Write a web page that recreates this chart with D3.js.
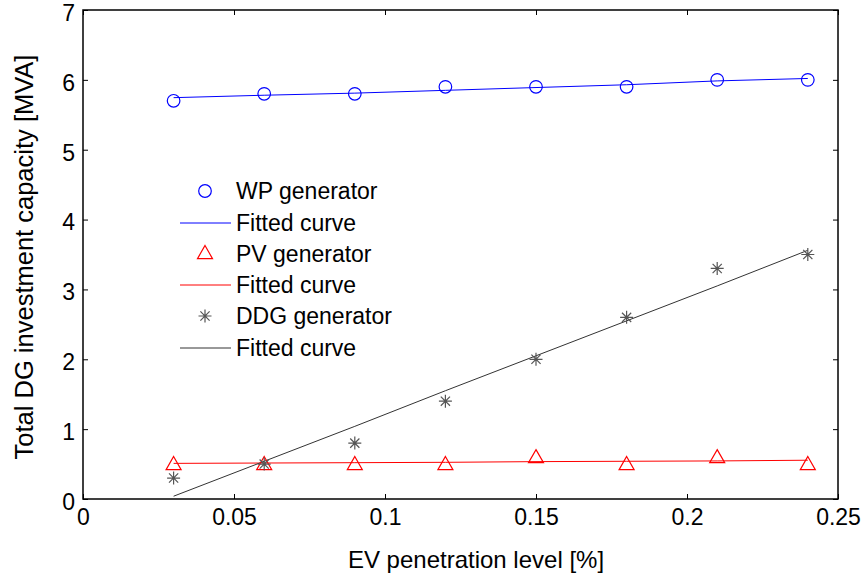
<!DOCTYPE html>
<html><head><meta charset="utf-8">
<script src="https://cdn.jsdelivr.net/npm/d3@7"></script>
<style>body{margin:0;background:#fff}svg{display:block}text{font-family:"Liberation Sans",Arial,sans-serif}</style>
</head><body><svg id="c" width="864" height="586"></svg>
<script>
const xs = [0.03,0.06,0.09,0.12,0.15,0.18,0.21,0.24];
const wp = [5.7,5.8,5.8,5.9,5.9,5.9,6.0,6.0];
const wpFit = [5.745,5.78,5.81,5.85,5.89,5.93,5.985,6.02];
const pv = [0.5,0.5,0.5,0.5,0.6,0.5,0.6,0.5];
const pvFit = [0.51,0.515,0.52,0.525,0.535,0.54,0.545,0.555];
const ddg = [0.3,0.5,0.8,1.4,2.0,2.6,3.3,3.5];
const ddgFit = [0.04,0.54,1.04,1.55,2.05,2.55,3.05,3.56];
const xTicks = [0,0.05,0.1,0.15,0.2,0.25];
const yTicks = [0,1,2,3,4,5,6,7];
const legendLabels = ["WP generator","Fitted curve","PV generator","Fitted curve","DDG generator","Fitted curve"];

const svg = d3.select("#c");
const L=83,R=838,T=10,B=499;
const x = d3.scaleLinear().domain([0,0.25]).range([L,R]);
const y = d3.scaleLinear().domain([0,7]).range([B,T]);

svg.append("rect").attr("x",L).attr("y",T).attr("width",R-L).attr("height",B-T)
  .attr("fill","none").attr("stroke","#000").attr("stroke-width",1.5);

const fmt = d => d===0?"0":String(d);
const gx = svg.append("g").attr("transform",`translate(0,${B})`)
  .call(d3.axisBottom(x).tickValues(xTicks).tickFormat(fmt).tickSize(-5));
const gxt = svg.append("g").attr("transform",`translate(0,${T})`)
  .call(d3.axisTop(x).tickValues(xTicks).tickFormat("").tickSize(-5));
const gy = svg.append("g").attr("transform",`translate(${L},0)`)
  .call(d3.axisLeft(y).tickValues(yTicks).tickFormat(fmt).tickSize(-5));
const gyr = svg.append("g").attr("transform",`translate(${R},0)`)
  .call(d3.axisRight(y).tickValues(yTicks).tickFormat("").tickSize(-5));
[gx,gxt,gy,gyr].forEach(g=>{g.select(".domain").remove();g.selectAll("line").attr("stroke","#000");});
[gx,gy].forEach(g=>g.selectAll("text").attr("font-size",23).attr("fill","#000"));
gx.selectAll("text").attr("y",26).attr("dy",0);
gy.selectAll("text").attr("x",-8).attr("dy","0.45em");

svg.append("text").attr("x",476).attr("y",568).attr("text-anchor","middle").attr("font-size",24).text("EV penetration level [%]");
svg.append("text").attr("transform",`translate(33,257) rotate(-90)`).attr("text-anchor","middle").attr("font-size",25.5).text("Total DG investment capacity [MVA]");

const line = d3.line().x((d,i)=>x(xs[i])).y(d=>y(d));
svg.append("path").datum(wpFit).attr("d",line).attr("fill","none").attr("stroke","#0000ff").attr("stroke-width",1);
svg.append("path").datum(pvFit).attr("d",line).attr("fill","none").attr("stroke","#ff0000").attr("stroke-width",1);
svg.append("path").datum(ddgFit).attr("d",line).attr("fill","none").attr("stroke","#333").attr("stroke-width",1);

function circle(g,cx,cy){g.append("circle").attr("cx",cx).attr("cy",cy).attr("r",6.3).attr("fill","none").attr("stroke","#0000ff").attr("stroke-width",1.2);}
function tri(g,cx,cy){const s=7.5;g.append("path").attr("d",`M${cx},${cy-s}L${cx+s},${cy+s*0.75}L${cx-s},${cy+s*0.75}Z`).attr("fill","none").attr("stroke","#ff0000").attr("stroke-width",1.2);}
function star(g,cx,cy){const s=6.5;let d="";for(let k=0;k<4;k++){const a=k*Math.PI/4;d+=`M${cx-s*Math.cos(a)},${cy-s*Math.sin(a)}L${cx+s*Math.cos(a)},${cy+s*Math.sin(a)}`;}
  g.append("path").attr("d",d).attr("stroke","#555").attr("stroke-width",1.2).attr("fill","none");}

xs.forEach((v,i)=>{circle(svg,x(v),y(wp[i]));tri(svg,x(v),y(pv[i]));star(svg,x(v),y(ddg[i]));});

const ly=[191,223,254,285,316,348];
const lg=svg.append("g");
const lineColors=["#0000ff","#ff0000","#333"];
legendLabels.forEach((t,i)=>{
  lg.append("text").attr("x",236).attr("y",ly[i]).attr("dy","0.35em").attr("font-size",23).text(t);
  if(i%2===0){ if(i===0)circle(lg,205,ly[i]); else if(i===2)tri(lg,205,ly[i]-1); else star(lg,205,ly[i]); }
  else lg.append("line").attr("x1",180).attr("x2",231).attr("y1",ly[i]).attr("y2",ly[i]).attr("stroke",lineColors[(i-1)/2]).attr("stroke-width",1);
});
</script></body></html>
